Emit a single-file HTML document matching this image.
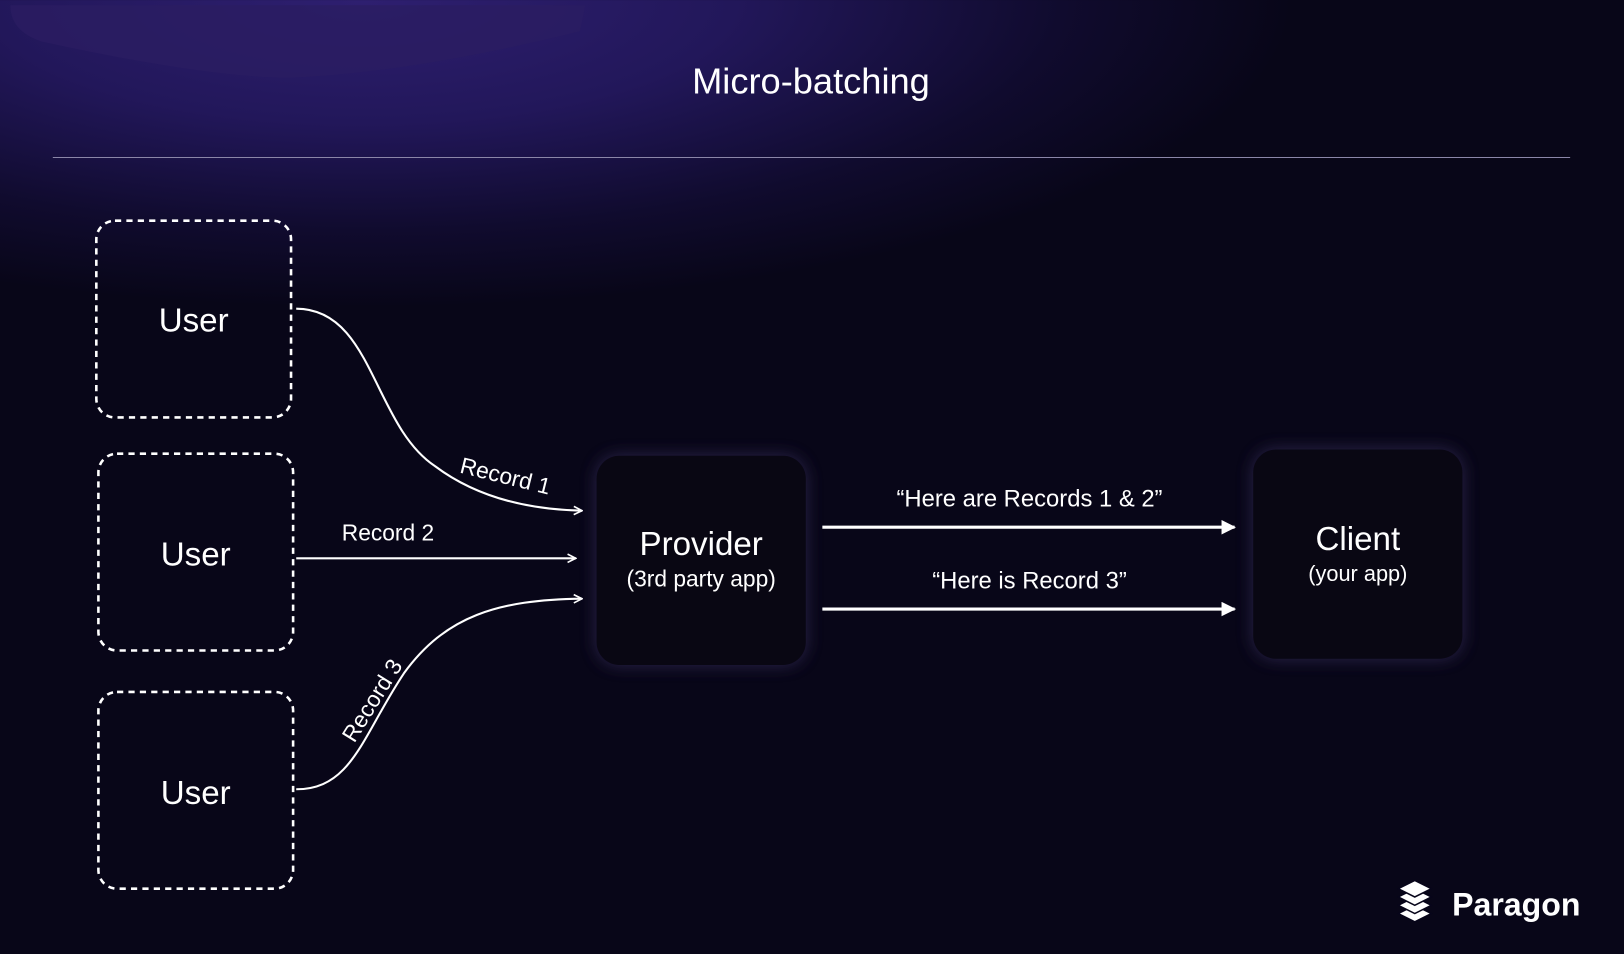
<!DOCTYPE html>
<html><head><meta charset="utf-8"><style>
html,body{margin:0;padding:0;background:#07051a;}
svg{display:block}
text{font-family:"Liberation Sans",sans-serif;fill:#fff}
</style></head><body>
<svg width="1624" height="954" viewBox="0 0 1568 921" xmlns="http://www.w3.org/2000/svg">
<defs>
<radialGradient id="bg" gradientUnits="userSpaceOnUse" cx="350" cy="0" r="900" gradientTransform="translate(350,0) scale(1,0.33) translate(-350,0)">
<stop offset="0" stop-color="#2e1f70"/>
<stop offset="0.4" stop-color="#22175a"/>
<stop offset="0.75" stop-color="#100b2e"/>
<stop offset="1" stop-color="#080618"/>
</radialGradient>
<filter id="glow" x="-30%" y="-30%" width="160%" height="160%">
<feGaussianBlur stdDeviation="8"/>
</filter>
<marker id="a" viewBox="0 0 10 10" refX="9" refY="5" markerWidth="10" markerHeight="10" markerUnits="userSpaceOnUse" orient="auto">
<path d="M1 1 L9 5 L1 9" fill="none" stroke="#fff" stroke-width="1.6"/>
</marker>
<marker id="f" viewBox="0 0 10 10" refX="9" refY="5" markerWidth="14" markerHeight="14" markerUnits="userSpaceOnUse" orient="auto">
<path d="M0 0 L10 5 L0 10 Z" fill="#fff"/>
</marker>
</defs>
<rect width="1568" height="921" fill="#080618"/>
<rect width="1568" height="921" fill="url(#bg)"/>
<path d="M10 5 Q10 30 40 40 Q200 75 280 75 Q400 70 560 30 L565 5 Z" fill="#2a1d62" opacity="0.8"/>
<text x="783" y="90" font-size="35" text-anchor="middle">Micro-batching</text>
<line x1="51" y1="152" x2="1516" y2="152" stroke="#8b86a8" stroke-width="1"/>
<g fill="none" stroke="#fff" stroke-width="2.5" stroke-dasharray="6,5">
<rect x="93" y="213" width="188" height="190" rx="18"/>
<rect x="95" y="438" width="188" height="190" rx="18"/>
<rect x="95" y="668" width="188" height="190" rx="18"/>
</g>
<text x="187" y="320" font-size="32" text-anchor="middle">User</text>
<text x="189" y="546" font-size="32" text-anchor="middle">User</text>
<text x="189" y="776" font-size="32" text-anchor="middle">User</text>
<g fill="none" stroke="#fff" stroke-width="2">
<path d="M286 298 C360 298 360 410 420 450 C460 480 510 492 562 493" marker-end="url(#a)"/>
<path d="M286 539 L556 539" marker-end="url(#a)"/>
<path d="M286 762 C340 762 350 710 390 650 C430 595 480 579 562 578" marker-end="url(#a)"/>
</g>
<text x="0" y="0" font-size="22" transform="translate(443,456) rotate(14)">Record 1</text>
<text x="330" y="522" font-size="22">Record 2</text>
<text x="0" y="0" font-size="22" transform="translate(342,718) rotate(-58)">Record 3</text>
<g>
<rect x="576" y="440" width="202" height="202" rx="22" fill="#3b3360" filter="url(#glow)" opacity="0.7"/>
<rect x="576" y="440" width="202" height="202" rx="22" fill="#090713"/>
<rect x="1210" y="434" width="202" height="202" rx="22" fill="#3b3360" filter="url(#glow)" opacity="0.7"/>
<rect x="1210" y="434" width="202" height="202" rx="22" fill="#090713"/>
</g>
<text x="677" y="536" font-size="32" text-anchor="middle">Provider</text>
<text x="677" y="566" font-size="22" text-anchor="middle" fill="#ddd">(3rd party app)</text>
<text x="1311" y="531" font-size="32" text-anchor="middle">Client</text>
<text x="1311" y="561" font-size="21" text-anchor="middle" fill="#ddd">(your app)</text>
<g stroke="#fff" stroke-width="3">
<line x1="794" y1="509" x2="1192" y2="509" marker-end="url(#f)"/>
<line x1="794" y1="588" x2="1192" y2="588" marker-end="url(#f)"/>
</g>
<text x="994" y="489" font-size="23" text-anchor="middle">“Here are Records 1 &amp; 2”</text>
<text x="994" y="568" font-size="23" text-anchor="middle">“Here is Record 3”</text>
<g fill="#fff" stroke="#07051a" stroke-width="1.5">
<path d="M1366 874 L1382 882 L1366 890 L1350 882 Z"/>
<path d="M1366 866 L1382 874 L1366 882 L1350 874 Z"/>
<path d="M1366 858 L1382 866 L1366 874 L1350 866 Z"/>
<path d="M1366 850 L1382 858 L1366 866 L1350 858 Z"/>
</g>
<text x="1402" y="884" font-size="31" font-weight="bold">Paragon</text>
</svg>
</body></html>
